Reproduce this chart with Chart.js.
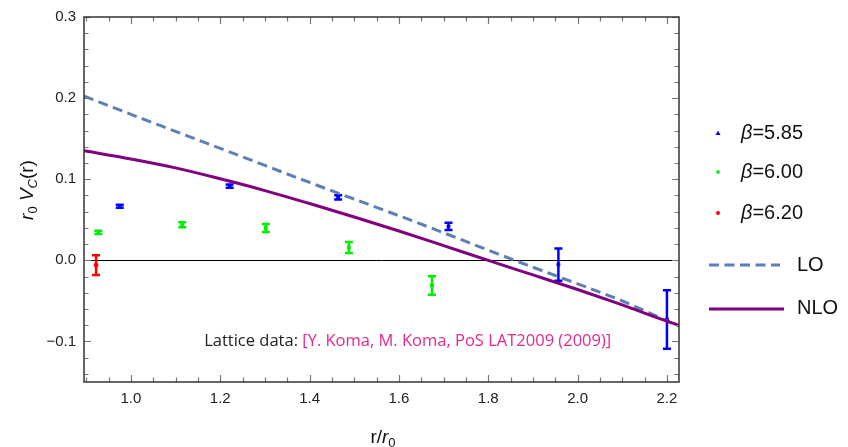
<!DOCTYPE html>
<html>
<head>
<meta charset="utf-8">
<script src="https://cdn.jsdelivr.net/npm/chart.js@4.4.1/dist/chart.umd.min.js"></script>
<style>
  html, body { margin: 0; padding: 0; background: #fff; }
  #wrap { position: relative; width: 848px; height: 447px; }
</style>
</head>
<body>
<div id="wrap"><canvas id="potentialChart" width="848" height="447"></canvas></div>
<script>
// lattice data, r/r0 and r0*Vc with symmetric errors
const beta585X = [0.975, 1.221, 1.464, 1.711, 1.957, 2.200];
const beta585Y = [0.0666, 0.0915, 0.0776, 0.0418, -0.0053, -0.0730];
const beta585Err = [0.0018, 0.0020, 0.0025, 0.0045, 0.0200, 0.0360];

const beta600X = [0.927, 1.115, 1.302, 1.488, 1.674];
const beta600Y = [0.0345, 0.0439, 0.0398, 0.0158, -0.0310];
const beta600Err = [0.0020, 0.0030, 0.0050, 0.0069, 0.0114];

const beta620X = [0.922];
const beta620Y = [-0.0060];
const beta620Err = [0.0122];

// perturbative curves
const curveX = [0.895, 1.0, 1.1, 1.2, 1.3, 1.4, 1.5, 1.6, 1.7, 1.8, 1.9, 2.0, 2.1, 2.2, 2.227];
const loY = [0.2025, 0.1800, 0.1590, 0.1380, 0.1170, 0.0960, 0.0755, 0.0550, 0.0340, 0.0125, -0.0085, -0.0290, -0.0500, -0.0745, -0.0810];
const nloY = [0.1350, 0.1250, 0.1140, 0.1005, 0.0860, 0.0700, 0.0535, 0.0362, 0.0182, 0.0000, -0.0180, -0.0360, -0.0550, -0.0750, -0.0800];

const xTicks = [1.0, 1.2, 1.4, 1.6, 1.8, 2.0, 2.2];
const yTicks = [-0.1, 0.0, 0.1, 0.2, 0.3];

const legendLabels = ['5.85', '6.00', '6.20'];

const BLUE = '#0000ff';
const GREEN = '#00ee00';
const RED = '#ff0000';
const LO_COLOR = '#5b7fb6';
const NLO_COLOR = '#800080';

function pts(xs, ys) {
    return xs.map((x, i) => ({ x: x, y: ys[i] }));
}

const errorSets = [
    { xs: beta585X, ys: beta585Y, err: beta585Err, color: BLUE },
    { xs: beta600X, ys: beta600Y, err: beta600Err, color: GREEN },
    { xs: beta620X, ys: beta620Y, err: beta620Err, color: RED }
];

// zero line + error bars under the curves
const errorBarPlugin = {
    id: 'errorBars',
    beforeDatasetsDraw(chart) {
        const { ctx, chartArea, scales } = chart;
        const xs = scales.x, ys = scales.y;
        ctx.save();
        ctx.strokeStyle = '#000';
        ctx.lineWidth = 1;
        const y0 = Math.round(ys.getPixelForValue(0)) + 0.5;
        ctx.beginPath();
        ctx.moveTo(chartArea.left, y0);
        ctx.lineTo(chartArea.right, y0);
        ctx.stroke();

        errorSets.forEach(set => {
            ctx.strokeStyle = set.color;
            ctx.lineWidth = 2.5;
            set.xs.forEach((x, i) => {
                const px = xs.getPixelForValue(x);
                const top = ys.getPixelForValue(set.ys[i] + set.err[i]);
                const bot = ys.getPixelForValue(set.ys[i] - set.err[i]);
                ctx.beginPath();
                ctx.moveTo(px, top);
                ctx.lineTo(px, bot);
                ctx.moveTo(px - 4, top);
                ctx.lineTo(px + 4, top);
                ctx.moveTo(px - 4, bot);
                ctx.lineTo(px + 4, bot);
                ctx.stroke();
            });
        });
        ctx.restore();
    }
};

// frame with inward ticks on all four sides, texts, legend
const framePlugin = {
    id: 'frame',
    afterDraw(chart) {
        const { ctx, chartArea, scales } = chart;
        const { left, right, top, bottom } = chartArea;
        const xs = scales.x, ys = scales.y;
        ctx.save();

        ctx.strokeStyle = '#777';
        ctx.lineWidth = 1.2;
        ctx.beginPath();
        for (let v = 0.9; v <= 2.2251; v += 0.05) {
            const px = Math.round(xs.getPixelForValue(v)) + 0.5;
            const major = Math.abs(v * 5 - Math.round(v * 5)) < 1e-6;
            const len = major ? 7 : 4.5;
            ctx.moveTo(px, bottom);
            ctx.lineTo(px, bottom - len);
            ctx.moveTo(px, top);
            ctx.lineTo(px, top + len);
        }
        for (let v = -0.14; v <= 0.3001; v += 0.02) {
            const py = Math.round(ys.getPixelForValue(v)) + 0.5;
            const major = Math.abs(v * 10 - Math.round(v * 10)) < 1e-6;
            const len = major ? 7 : 4.5;
            ctx.moveTo(left, py);
            ctx.lineTo(left + len, py);
            ctx.moveTo(right, py);
            ctx.lineTo(right - len, py);
        }
        ctx.stroke();

        ctx.strokeStyle = '#333';
        ctx.lineWidth = 1.5;
        ctx.strokeRect(left, top, right - left, bottom - top);

        // attribution inside the plot
        ctx.font = '16.5px "Open Sans", sans-serif';
        ctx.textBaseline = 'middle';
        ctx.textAlign = 'left';
        let tx = xs.getPixelForValue(1.164);
        const ty = ys.getPixelForValue(-0.1);
        const part1 = 'Lattice data: ';
        ctx.fillStyle = '#222';
        ctx.fillText(part1, tx, ty);
        tx += ctx.measureText(part1).width;
        ctx.fillStyle = '#e8288e';
        ctx.fillText('[Y. Koma, M. Koma, PoS LAT2009 (2009)]', tx, ty);

        // y axis title: r0 Vc(r)
        ctx.save();
        ctx.translate(26, 190);
        ctx.rotate(-Math.PI / 2);
        ctx.fillStyle = '#111';
        ctx.textBaseline = 'alphabetic';
        const big = '19px "Liberation Sans", Arial, sans-serif';
        const bigIt = 'italic 19px "Liberation Sans", Arial, sans-serif';
        const sub = '13px "Liberation Sans", Arial, sans-serif';
        const subIt = 'italic 13px "Liberation Sans", Arial, sans-serif';
        const pieces = [
            { t: 'r', f: bigIt, dy: 0 },
            { t: '0', f: sub, dy: 4 },
            { t: ' ', f: big, dy: 0 },
            { t: 'V', f: bigIt, dy: 0 },
            { t: 'C', f: subIt, dy: 4 },
            { t: '(r)', f: big, dy: 0 }
        ];
        let w = 0;
        pieces.forEach(p => { ctx.font = p.f; w += ctx.measureText(p.t).width; });
        let cx = -w / 2;
        pieces.forEach(p => {
            ctx.font = p.f;
            ctx.fillText(p.t, cx, 7 + p.dy);
            cx += ctx.measureText(p.t).width;
        });
        ctx.restore();

        // x axis title: r/r0
        const xp = [
            { t: 'r/', f: big, dy: 0 },
            { t: 'r', f: bigIt, dy: 0 },
            { t: '0', f: sub, dy: 4 }
        ];
        w = 0;
        xp.forEach(p => { ctx.font = p.f; w += ctx.measureText(p.t).width; });
        cx = 383 - w / 2;
        ctx.fillStyle = '#111';
        ctx.textBaseline = 'alphabetic';
        xp.forEach(p => {
            ctx.font = p.f;
            ctx.fillText(p.t, cx, 443 + p.dy);
            cx += ctx.measureText(p.t).width;
        });

        // legend
        const lx = 718, textX = 741;
        const rows = [133, 172, 213];
        const markColors = [BLUE, GREEN, RED];
        rows.forEach((ry, i) => {
            ctx.fillStyle = markColors[i];
            ctx.beginPath();
            if (i === 0) {
                ctx.moveTo(lx, ry - 2.5);
                ctx.lineTo(lx + 2.5, ry + 2);
                ctx.lineTo(lx - 2.5, ry + 2);
                ctx.closePath();
            } else if (i === 1) {
                ctx.rect(lx - 1.6, ry - 1.6, 3.2, 3.2);
            } else {
                ctx.arc(lx, ry, 2, 0, Math.PI * 2);
            }
            ctx.fill();
            ctx.fillStyle = '#111';
            ctx.textBaseline = 'middle';
            ctx.font = 'italic 20px "Liberation Sans", Arial, sans-serif';
            ctx.fillText('β', textX, ry);
            const bw = ctx.measureText('β').width;
            ctx.font = '20px "Liberation Sans", Arial, sans-serif';
            ctx.fillText('=' + legendLabels[i], textX + bw, ry);
        });

        ctx.lineWidth = 3;
        ctx.strokeStyle = LO_COLOR;
        ctx.setLineDash([10, 5.5]);
        ctx.beginPath();
        ctx.moveTo(709, 265);
        ctx.lineTo(780, 265);
        ctx.stroke();
        ctx.setLineDash([]);
        ctx.strokeStyle = NLO_COLOR;
        ctx.beginPath();
        ctx.moveTo(709, 309);
        ctx.lineTo(784, 309);
        ctx.stroke();
        ctx.fillStyle = '#111';
        ctx.font = '20px "Liberation Sans", Arial, sans-serif';
        ctx.fillText('LO', 797, 265);
        ctx.fillText('NLO', 797, 308);

        ctx.restore();
    }
};

const ctx = document.getElementById('potentialChart').getContext('2d');

const potentialChart = new Chart(ctx, {
    type: 'scatter',
    data: {
        datasets: [
            {
                label: 'NLO',
                data: pts(curveX, nloY),
                showLine: true,
                borderColor: NLO_COLOR,
                borderWidth: 3,
                pointRadius: 0,
                cubicInterpolationMode: 'monotone',
                order: 0
            },
            {
                label: 'LO',
                data: pts(curveX, loY),
                showLine: true,
                borderColor: LO_COLOR,
                borderWidth: 3,
                borderDash: [10, 5.5],
                pointRadius: 0,
                cubicInterpolationMode: 'monotone',
                order: 1
            },
            {
                label: 'β=5.85',
                data: pts(beta585X, beta585Y),
                backgroundColor: BLUE,
                borderColor: BLUE,
                pointStyle: 'rect',
                pointRadius: 2,
                order: 2
            },
            {
                label: 'β=6.00',
                data: pts(beta600X, beta600Y),
                backgroundColor: GREEN,
                borderColor: GREEN,
                pointStyle: 'rect',
                pointRadius: 2,
                order: 3
            },
            {
                label: 'β=6.20',
                data: pts(beta620X, beta620Y),
                backgroundColor: RED,
                borderColor: RED,
                pointRadius: 2,
                order: 4
            }
        ]
    },
    options: {
        responsive: false,
        animation: false,
        layout: {
            padding: { top: 14, right: 169, left: 0, bottom: 0 }
        },
        scales: {
            x: {
                type: 'linear',
                min: 0.895,
                max: 2.227,
                grid: { display: false, drawTicks: false },
                border: { display: false },
                afterBuildTicks: scale => {
                    scale.ticks = xTicks.map(v => ({ value: v }));
                },
                afterFit: scale => { scale.height = 65; },
                ticks: {
                    padding: 8,
                    color: '#222',
                    font: { family: '"Liberation Sans", Arial, sans-serif', size: 15 },
                    callback: v => v.toFixed(1)
                }
            },
            y: {
                min: -0.15,
                max: 0.3,
                grid: { display: false, drawTicks: false },
                border: { display: false },
                afterBuildTicks: scale => {
                    scale.ticks = yTicks.map(v => ({ value: v }));
                },
                afterFit: scale => { scale.width = 84; },
                ticks: {
                    padding: 8,
                    color: '#222',
                    font: { family: '"Liberation Sans", Arial, sans-serif', size: 15 },
                    callback: v => (v < -1e-9 ? '\u2212' + Math.abs(v).toFixed(1) : Math.abs(v).toFixed(1))
                }
            }
        },
        plugins: {
            legend: { display: false },
            tooltip: { enabled: false }
        }
    },
    plugins: [errorBarPlugin, framePlugin]
});
</script>
</body>
</html>
